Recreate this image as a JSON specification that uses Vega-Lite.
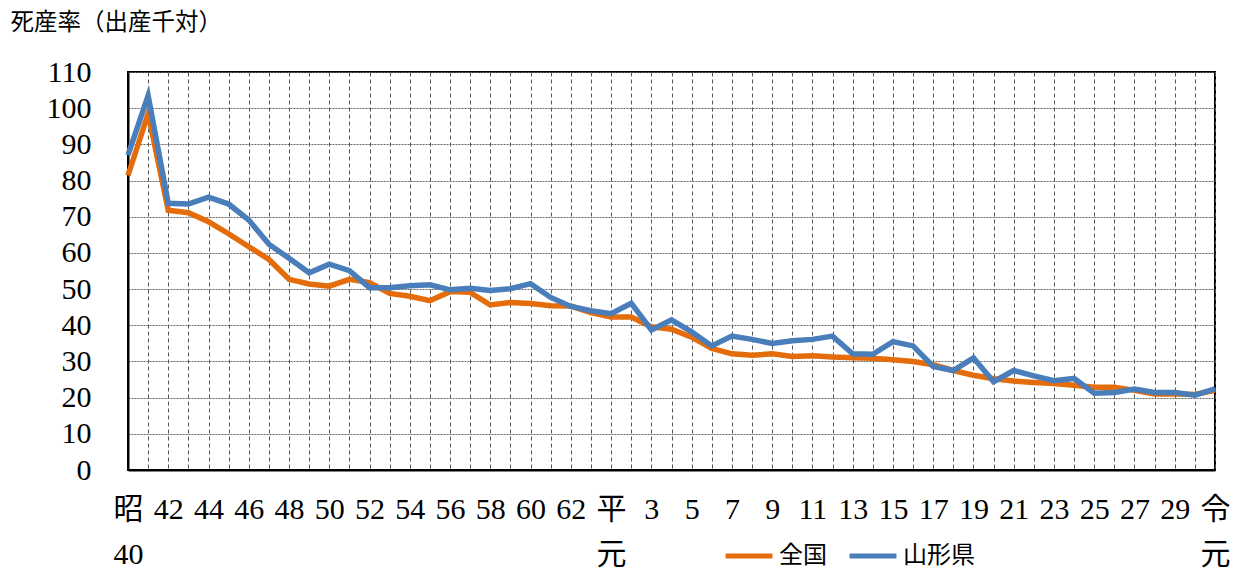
{
  "$schema": "https://vega.github.io/schema/vega-lite/v6.json",
  "width": 1087,
  "height": 398,
  "autosize": {"type": "none"},
  "padding": {"left": 128, "top": 72, "right": 24, "bottom": 99},
  "background": "white",
  "config": {
    "font": "Liberation Serif, Noto Sans CJK JP",
    "view": {"stroke": "#000000", "strokeWidth": 2}
  },
  "data": {
    "values": [
      {"year": 1965, "series": "全国", "value": 81.4}, {"year": 1965, "series": "山形県", "value": 87.0},
      {"year": 1966, "series": "全国", "value": 98.5}, {"year": 1966, "series": "山形県", "value": 103.5},
      {"year": 1967, "series": "全国", "value": 71.8}, {"year": 1967, "series": "山形県", "value": 73.7},
      {"year": 1968, "series": "全国", "value": 71.1}, {"year": 1968, "series": "山形県", "value": 73.5},
      {"year": 1969, "series": "全国", "value": 68.6}, {"year": 1969, "series": "山形県", "value": 75.4},
      {"year": 1970, "series": "全国", "value": 65.3}, {"year": 1970, "series": "山形県", "value": 73.5},
      {"year": 1971, "series": "全国", "value": 61.7}, {"year": 1971, "series": "山形県", "value": 69.1},
      {"year": 1972, "series": "全国", "value": 58.2}, {"year": 1972, "series": "山形県", "value": 62.4},
      {"year": 1973, "series": "全国", "value": 52.7}, {"year": 1973, "series": "山形県", "value": 58.5},
      {"year": 1974, "series": "全国", "value": 51.4}, {"year": 1974, "series": "山形県", "value": 54.5},
      {"year": 1975, "series": "全国", "value": 50.8}, {"year": 1975, "series": "山形県", "value": 56.9},
      {"year": 1976, "series": "全国", "value": 52.7}, {"year": 1976, "series": "山形県", "value": 55.1},
      {"year": 1977, "series": "全国", "value": 51.8}, {"year": 1977, "series": "山形県", "value": 50.4},
      {"year": 1978, "series": "全国", "value": 48.8}, {"year": 1978, "series": "山形県", "value": 50.4},
      {"year": 1979, "series": "全国", "value": 48.0}, {"year": 1979, "series": "山形県", "value": 50.9},
      {"year": 1980, "series": "全国", "value": 46.8}, {"year": 1980, "series": "山形県", "value": 51.2},
      {"year": 1981, "series": "全国", "value": 49.3}, {"year": 1981, "series": "山形県", "value": 49.8},
      {"year": 1982, "series": "全国", "value": 49.1}, {"year": 1982, "series": "山形県", "value": 50.2},
      {"year": 1983, "series": "全国", "value": 45.6}, {"year": 1983, "series": "山形県", "value": 49.6},
      {"year": 1984, "series": "全国", "value": 46.3}, {"year": 1984, "series": "山形県", "value": 50.1},
      {"year": 1985, "series": "全国", "value": 46.0}, {"year": 1985, "series": "山形県", "value": 51.5},
      {"year": 1986, "series": "全国", "value": 45.4}, {"year": 1986, "series": "山形県", "value": 47.7},
      {"year": 1987, "series": "全国", "value": 45.3}, {"year": 1987, "series": "山形県", "value": 45.2},
      {"year": 1988, "series": "全国", "value": 43.5}, {"year": 1988, "series": "山形県", "value": 44.0},
      {"year": 1989, "series": "全国", "value": 42.3}, {"year": 1989, "series": "山形県", "value": 43.2},
      {"year": 1990, "series": "全国", "value": 42.3}, {"year": 1990, "series": "山形県", "value": 46.1},
      {"year": 1991, "series": "全国", "value": 39.6}, {"year": 1991, "series": "山形県", "value": 38.7},
      {"year": 1992, "series": "全国", "value": 38.9}, {"year": 1992, "series": "山形県", "value": 41.5},
      {"year": 1993, "series": "全国", "value": 36.7}, {"year": 1993, "series": "山形県", "value": 38.2},
      {"year": 1994, "series": "全国", "value": 33.6}, {"year": 1994, "series": "山形県", "value": 34.3},
      {"year": 1995, "series": "全国", "value": 32.1}, {"year": 1995, "series": "山形県", "value": 37.0},
      {"year": 1996, "series": "全国", "value": 31.7}, {"year": 1996, "series": "山形県", "value": 36.1},
      {"year": 1997, "series": "全国", "value": 32.1}, {"year": 1997, "series": "山形県", "value": 35.0},
      {"year": 1998, "series": "全国", "value": 31.4}, {"year": 1998, "series": "山形県", "value": 35.7},
      {"year": 1999, "series": "全国", "value": 31.6}, {"year": 1999, "series": "山形県", "value": 36.1},
      {"year": 2000, "series": "全国", "value": 31.2}, {"year": 2000, "series": "山形県", "value": 37.0},
      {"year": 2001, "series": "全国", "value": 31.0}, {"year": 2001, "series": "山形県", "value": 32.1},
      {"year": 2002, "series": "全国", "value": 30.9}, {"year": 2002, "series": "山形県", "value": 32.0},
      {"year": 2003, "series": "全国", "value": 30.5}, {"year": 2003, "series": "山形県", "value": 35.5},
      {"year": 2004, "series": "全国", "value": 30.0}, {"year": 2004, "series": "山形県", "value": 34.3},
      {"year": 2005, "series": "全国", "value": 29.1}, {"year": 2005, "series": "山形県", "value": 28.6},
      {"year": 2006, "series": "全国", "value": 27.5}, {"year": 2006, "series": "山形県", "value": 27.5},
      {"year": 2007, "series": "全国", "value": 26.2}, {"year": 2007, "series": "山形県", "value": 31.0},
      {"year": 2008, "series": "全国", "value": 25.2}, {"year": 2008, "series": "山形県", "value": 24.4},
      {"year": 2009, "series": "全国", "value": 24.6}, {"year": 2009, "series": "山形県", "value": 27.5},
      {"year": 2010, "series": "全国", "value": 24.2}, {"year": 2010, "series": "山形県", "value": 26.0},
      {"year": 2011, "series": "全国", "value": 23.9}, {"year": 2011, "series": "山形県", "value": 24.7},
      {"year": 2012, "series": "全国", "value": 23.4}, {"year": 2012, "series": "山形県", "value": 25.3},
      {"year": 2013, "series": "全国", "value": 22.9}, {"year": 2013, "series": "山形県", "value": 21.2},
      {"year": 2014, "series": "全国", "value": 22.9}, {"year": 2014, "series": "山形県", "value": 21.4},
      {"year": 2015, "series": "全国", "value": 22.0}, {"year": 2015, "series": "山形県", "value": 22.4},
      {"year": 2016, "series": "全国", "value": 21.0}, {"year": 2016, "series": "山形県", "value": 21.4},
      {"year": 2017, "series": "全国", "value": 21.1}, {"year": 2017, "series": "山形県", "value": 21.4},
      {"year": 2018, "series": "全国", "value": 20.9}, {"year": 2018, "series": "山形県", "value": 20.7},
      {"year": 2019, "series": "全国", "value": 22.0}, {"year": 2019, "series": "山形県", "value": 22.4}
    ]
  },
  "mark": {"type": "line", "strokeWidth": 5.5, "strokeJoin": "miter", "clip": false},
  "encoding": {
    "x": {
      "field": "year",
      "type": "quantitative",
      "scale": {"domain": [1965, 2019], "nice": false, "zero": false},
      "axis": {
        "title": null,
        "values": [1965,1966,1967,1968,1969,1970,1971,1972,1973,1974,1975,1976,1977,1978,1979,1980,1981,1982,1983,1984,1985,1986,1987,1988,1989,1990,1991,1992,1993,1994,1995,1996,1997,1998,1999,2000,2001,2002,2003,2004,2005,2006,2007,2008,2009,2010,2011,2012,2013,2014,2015,2016,2017,2018,2019],
        "labelExpr": "datum.value == 1965 ? ['昭','40'] : datum.value == 1989 ? ['平','元'] : datum.value == 2019 ? ['令','元'] : datum.value % 2 == 0 ? '' : datum.value < 1989 ? '' + (datum.value - 1925) : '' + (datum.value - 1988)",
        "labelFontSize": 30,
        "labelColor": "#000000",
        "labelLineHeight": 45,
        "labelBaseline": "top",
        "labelPadding": 24,
        "labelOverlap": false,
        "labelBound": false,
        "labelFlush": false,
        "ticks": false,
        "domain": true,
        "domainColor": "#000000",
        "domainWidth": 2,
        "grid": true,
        "gridColor": "#555555",
        "gridDash": [4, 3],
        "gridWidth": 1
      }
    },
    "y": {
      "field": "value",
      "type": "quantitative",
      "scale": {"domain": [0, 110], "nice": false},
      "axis": {
        "title": "死産率（出産千対）",
        "titleAngle": 0,
        "titleX": -118,
        "titleY": -50,
        "titleAlign": "left",
        "titleBaseline": "middle",
        "titleFontSize": 23.5,
        "titleFontWeight": "normal",
        "titleColor": "#000000",
        "values": [0,10,20,30,40,50,60,70,80,90,100,110],
        "labelFontSize": 30,
        "labelColor": "#000000",
        "labelPadding": 37,
        "ticks": false,
        "domain": true,
        "domainColor": "#000000",
        "domainWidth": 2,
        "grid": true,
        "gridColor": "#666666",
        "gridDash": [2, 1],
        "gridWidth": 1
      }
    },
    "color": {
      "field": "series",
      "type": "nominal",
      "sort": ["全国", "山形県"],
      "scale": {"domain": ["全国", "山形県"], "range": ["#E46C0A", "#4A7EBB"]},
      "legend": {
        "title": null,
        "orient": "none",
        "legendX": 595,
        "legendY": 458,
        "offset": 0,
        "padding": 0,
        "direction": "horizontal",
        "symbolType": "stroke",
        "symbolSize": 2200,
        "symbolStrokeWidth": 5,
        "labelFontSize": 24,
        "labelColor": "#000000",
        "labelOffset": 4,
        "columnPadding": 12
      }
    }
  }
}
